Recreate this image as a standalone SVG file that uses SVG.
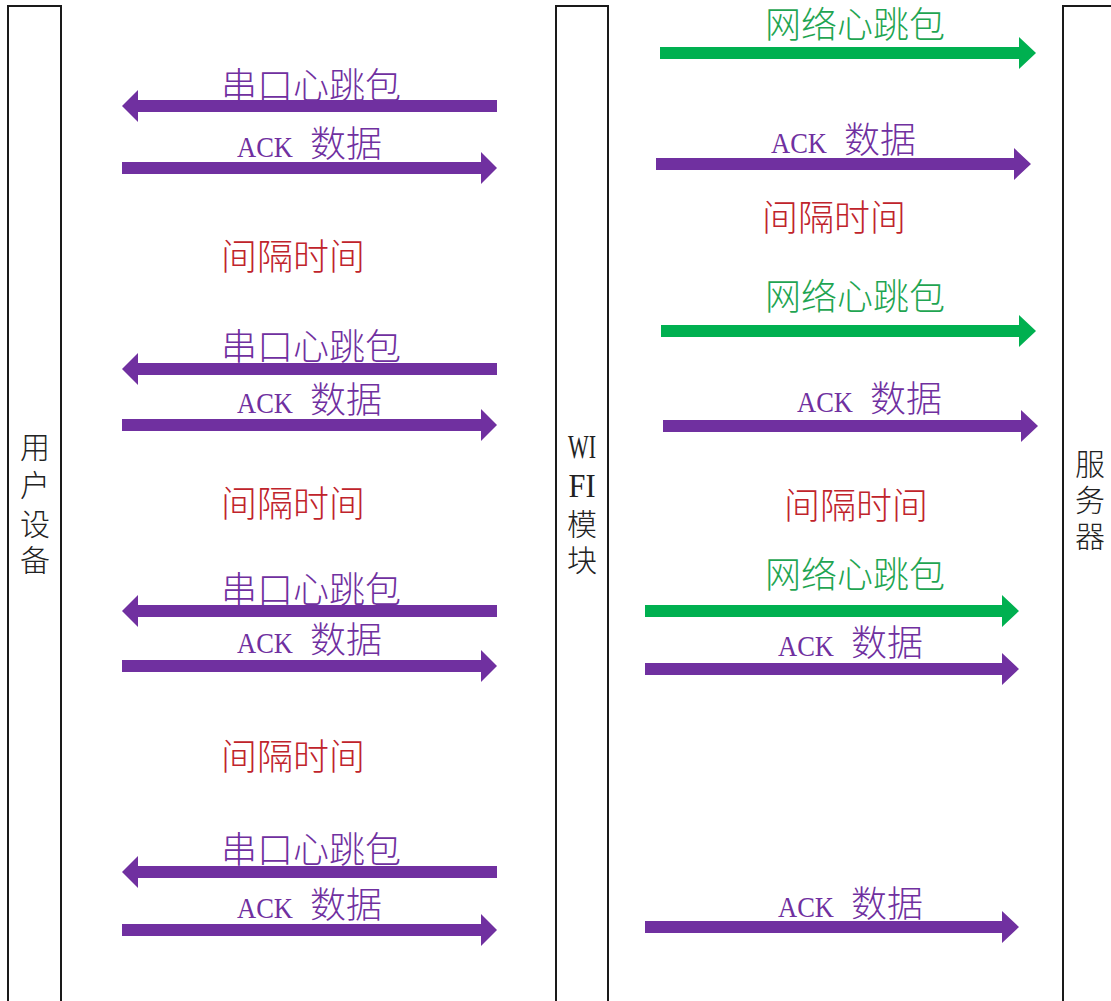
<svg xmlns="http://www.w3.org/2000/svg" width="1111" height="1001" viewBox="0 0 1111 1001">
<style>
.box{fill:#fff;stroke:#1a1a1a;stroke-width:2}
.lbl{font-family:"Liberation Serif","Noto Sans CJK SC",serif;font-size:30px;fill:#222;text-anchor:middle;font-weight:300}
.t{font-family:"Liberation Serif","Noto Sans CJK SC",serif;font-size:36px;font-weight:300}
.pu{fill:#7030A0}
.gr{fill:#1FA552}
.rd{fill:#C0232B}
.ap{fill:#7030A0}
.ag{fill:#00B050}
.ack{font-size:30px}
</style>
<rect width="1111" height="1001" fill="#fff"/>
<g id="user-device">
<rect class="box" x="8" y="6" width="53" height="1010"/>
<text class="lbl" x="35"><tspan x="35" y="458">用</tspan><tspan x="35" y="496">户</tspan><tspan x="35" y="535">设</tspan><tspan x="35" y="571">备</tspan></text>
</g>
<g id="wifi-module">
<rect class="box" x="556" y="6" width="52" height="1010"/>
<text class="lbl" x="582"><tspan x="582" y="458" font-size="34" textLength="28" lengthAdjust="spacingAndGlyphs">WI</tspan><tspan x="582" y="497" font-size="34" textLength="27" lengthAdjust="spacingAndGlyphs">FI</tspan><tspan x="582" y="535">模</tspan><tspan x="582" y="571">块</tspan></text>
</g>
<g id="server">
<rect class="box" x="1063" y="6" width="60" height="1010"/>
<text class="lbl" x="1090"><tspan x="1090" y="475">服</tspan><tspan x="1090" y="511">务</tspan><tspan x="1090" y="547">器</tspan></text>
</g>
<g id="connectors">
<polygon class="ap" points="497,100 138,100 138,90 122,106 138,122 138,112 497,112"/>
<polygon class="ap" points="497,363 138,363 138,353 122,369 138,385 138,375 497,375"/>
<polygon class="ap" points="497,605 138,605 138,595 122,611 138,627 138,617 497,617"/>
<polygon class="ap" points="497,866 138,866 138,856 122,872 138,888 138,878 497,878"/>
<polygon class="ap" points="122,162 481,162 481,152 497,168 481,184 481,174 122,174"/>
<polygon class="ap" points="122,419 481,419 481,409 497,425 481,441 481,431 122,431"/>
<polygon class="ap" points="122,660 481,660 481,650 497,666 481,682 481,672 122,672"/>
<polygon class="ap" points="122,924 481,924 481,914 497,930 481,946 481,936 122,936"/>
<polygon class="ag" points="660,47 1019,47 1019,37 1036,53 1019,69 1019,59 660,59"/>
<polygon class="ap" points="656,158 1014,158 1014,148 1031,164 1014,180 1014,170 656,170"/>
<polygon class="ag" points="661,325 1019,325 1019,315 1036,331 1019,347 1019,337 661,337"/>
<polygon class="ap" points="663,420 1021,420 1021,410 1038,426 1021,442 1021,432 663,432"/>
<polygon class="ag" points="645,605 1002,605 1002,595 1019,611 1002,627 1002,617 645,617"/>
<polygon class="ap" points="645,663 1002,663 1002,653 1019,669 1002,685 1002,675 645,675"/>
<polygon class="ap" points="645,921 1002,921 1002,911 1019,927 1002,943 1002,933 645,933"/>
</g>
<g id="labels">
<text class="t pu" x="221" y="99">串口心跳包</text>
<text class="t pu" x="221" y="360">串口心跳包</text>
<text class="t pu" x="221" y="603">串口心跳包</text>
<text class="t pu" x="221" y="863">串口心跳包</text>
<text class="t pu" x="237" y="157"><tspan class="ack" textLength="56" lengthAdjust="spacingAndGlyphs">ACK</tspan><tspan dx="8"> 数据</tspan></text>
<text class="t pu" x="237" y="413"><tspan class="ack" textLength="56" lengthAdjust="spacingAndGlyphs">ACK</tspan><tspan dx="8"> 数据</tspan></text>
<text class="t pu" x="237" y="653"><tspan class="ack" textLength="56" lengthAdjust="spacingAndGlyphs">ACK</tspan><tspan dx="8"> 数据</tspan></text>
<text class="t pu" x="237" y="918"><tspan class="ack" textLength="56" lengthAdjust="spacingAndGlyphs">ACK</tspan><tspan dx="8"> 数据</tspan></text>
<text class="t rd" x="221" y="270">间隔时间</text>
<text class="t rd" x="221" y="517">间隔时间</text>
<text class="t rd" x="221" y="770">间隔时间</text>
<text class="t gr" x="765" y="38">网络心跳包</text>
<text class="t gr" x="765" y="310">网络心跳包</text>
<text class="t gr" x="765" y="588">网络心跳包</text>
<text class="t pu" x="771" y="153"><tspan class="ack" textLength="56" lengthAdjust="spacingAndGlyphs">ACK</tspan><tspan dx="8"> 数据</tspan></text>
<text class="t pu" x="797" y="412"><tspan class="ack" textLength="56" lengthAdjust="spacingAndGlyphs">ACK</tspan><tspan dx="8"> 数据</tspan></text>
<text class="t pu" x="778" y="656"><tspan class="ack" textLength="56" lengthAdjust="spacingAndGlyphs">ACK</tspan><tspan dx="8"> 数据</tspan></text>
<text class="t pu" x="778" y="917"><tspan class="ack" textLength="56" lengthAdjust="spacingAndGlyphs">ACK</tspan><tspan dx="8"> 数据</tspan></text>
<text class="t rd" x="762" y="231">间隔时间</text>
<text class="t rd" x="784" y="519">间隔时间</text>
</g>
</svg>
